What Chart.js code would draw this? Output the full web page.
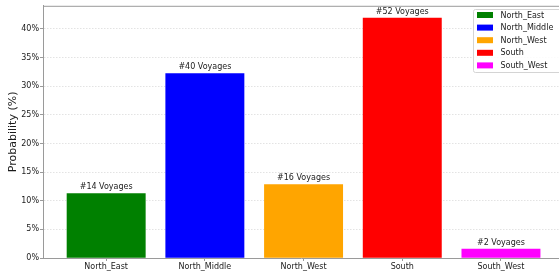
<!DOCTYPE html>
<html>
<head>
<meta charset="utf-8">
<script src="https://cdn.jsdelivr.net/npm/chart.js@4/dist/chart.umd.min.js"></script>
<style>
  html, body { margin: 0; padding: 0; background: #fff; }
  #wrap { width: 559px; height: 275px; position: relative; overflow: hidden; }
</style>
</head>
<body>
<div id="wrap"><canvas id="chart" width="559" height="275"></canvas></div>
<script>
// regions and what the picture shows for each
const regions = ["North_East", "North_Middle", "North_West", "South", "South_West"];
const probabilities = [11.29, 32.26, 12.90, 41.94, 1.61];
const voyages = [14, 40, 16, 52, 2];
const barColors = ["#008000", "#0000ff", "#ffa500", "#ff0000", "#ff00ff"];
const yTicks = [0, 5, 10, 15, 20, 25, 30, 35, 40];

const AXIS_GRAY = "#9a9a9a";
const TEXT = "#1a1a1a";

Chart.defaults.font.family = "DejaVu Sans";
Chart.defaults.font.size = 8;
Chart.defaults.color = TEXT;

// "#14 Voyages" above each bar
const barLabels = {
    id: "barLabels",
    afterDatasetsDraw(chart) {
        const ctx = chart.ctx;
        const meta = chart.getDatasetMeta(0);
        ctx.save();
        ctx.font = "8px 'DejaVu Sans'";
        ctx.fillStyle = TEXT;
        ctx.textAlign = "center";
        ctx.textBaseline = "bottom";
        meta.data.forEach((bar, i) => {
            ctx.fillText("#" + voyages[i] + " Voyages", bar.x, bar.y - 2);
        });
        ctx.restore();
    }
};

// top spine + matplotlib style legend in the upper right corner
const frameAndLegend = {
    id: "frameAndLegend",
    afterDraw(chart) {
        const ctx = chart.ctx;
        const area = chart.chartArea;
        ctx.save();
        ctx.strokeStyle = AXIS_GRAY;
        ctx.lineWidth = 1;
        ctx.beginPath();
        ctx.moveTo(area.left, area.top + 0.5);
        ctx.lineTo(area.right, area.top + 0.5);
        ctx.stroke();

        const bx = 473.5, by = 9.5, bw = 90, bh = 63;
        ctx.fillStyle = "rgba(255,255,255,0.85)";
        ctx.strokeStyle = "#d4d4d4";
        ctx.beginPath();
        ctx.roundRect(bx, by, bw, bh, 2);
        ctx.fill();
        ctx.stroke();

        ctx.font = "8px 'DejaVu Sans'";
        ctx.textBaseline = "middle";
        ctx.textAlign = "left";
        regions.forEach((name, i) => {
            const cy = 15 + i * 12.6;
            ctx.fillStyle = barColors[i];
            ctx.fillRect(477, cy - 3, 16, 6);
            ctx.fillStyle = TEXT;
            ctx.fillText(name, 500.5, cy + 0.5);
        });
        ctx.restore();
    }
};

new Chart(document.getElementById("chart"), {
    type: "bar",
    data: {
        datasets: [{
            data: regions.map((r, i) => ({ x: i, y: probabilities[i] })),
            backgroundColor: barColors,
            borderWidth: 0,
            categoryPercentage: 1.0,
            barPercentage: 0.8
        }]
    },
    options: {
        responsive: false,
        animation: false,
        layout: { padding: { top: 4, right: 0, bottom: 0, left: 0 } },
        plugins: {
            legend: { display: false },
            tooltip: { enabled: false }
        },
        scales: {
            x: {
                type: "linear",
                min: -0.64,
                max: 4.588,
                offset: false,
                afterFit: (s) => { s.height = 17; },
                afterBuildTicks: (s) => { s.ticks = regions.map((r, i) => ({ value: i })); },
                grid: { offset: false, drawOnChartArea: false, drawTicks: true, tickLength: 3, tickColor: AXIS_GRAY },
                border: { display: true, color: AXIS_GRAY, width: 1 },
                ticks: {
                    autoSkip: false,
                    maxRotation: 0,
                    padding: 1,
                    color: TEXT,
                    font: { size: 8 },
                    callback: (v) => regions[v] ?? ""
                }
            },
            y: {
                min: 0,
                max: 44.04,
                afterFit: (s) => { s.width = 43; },
                afterBuildTicks: (s) => { s.ticks = yTicks.map(v => ({ value: v })); },
                grid: {
                    color: "rgba(0,0,0,0.16)",
                    lineWidth: 0.7,
                    tickLength: 3,
                    tickColor: AXIS_GRAY,
                    tickWidth: 1
                },
                border: { display: true, color: AXIS_GRAY, width: 1, dash: [1.5, 1.5] },
                title: {
                    display: true,
                    text: "Probability (%)",
                    color: TEXT,
                    font: { size: 11 },
                    padding: { top: 7, bottom: 0 }
                },
                ticks: {
                    padding: 1,
                    color: TEXT,
                    font: { size: 8 },
                    callback: (v) => v + "%"
                }
            }
        }
    },
    plugins: [barLabels, frameAndLegend]
});
</script>
</body>
</html>
